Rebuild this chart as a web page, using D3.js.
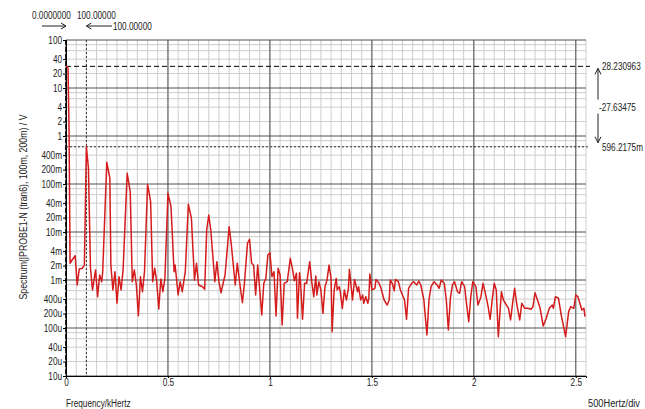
<!DOCTYPE html>
<html>
<head>
<meta charset="utf-8">
<script src="https://cdn.jsdelivr.net/npm/d3@7"></script>
<style>
  body { margin: 0; background: #fff; }
  text { font-family: "Liberation Sans", Arial, sans-serif; font-size: 10px; fill: #222; }
</style>
</head>
<body>
<script>
// Spectrum: frequency in Hz, magnitude in mV
const freqHz = [
  0, 5, 10, 15, 20, 30, 45, 55, 65, 80, 90,
  100, 110, 120, 130, 145, 155, 165, 175, 180, 200,
  215, 220, 230, 240, 250, 260, 270, 280, 300, 315,
  325, 335, 345, 355, 365, 375, 385, 400, 415, 425,
  435, 445, 455, 465, 475, 485, 500, 515, 530, 535,
  550, 560, 570, 585, 600, 615, 630, 640, 650, 670,
  680, 690, 700, 710, 730, 740, 750, 760, 780, 800,
  810, 830, 840, 850, 865, 875, 890, 900, 910, 920,
  930, 940, 960, 970, 980, 990, 1000, 1010, 1020, 1030,
  1040, 1050, 1060, 1070, 1085, 1100, 1110, 1120, 1130, 1135,
  1145, 1150, 1160, 1170, 1180, 1195, 1205, 1215, 1225, 1230,
  1240, 1250, 1260, 1270, 1280, 1290, 1300, 1305, 1315, 1325,
  1330, 1340, 1345, 1355, 1365, 1375, 1385, 1390, 1400, 1405,
  1415, 1430, 1435, 1445, 1455, 1460, 1470, 1480, 1485, 1490,
  1500, 1515, 1520, 1535, 1545, 1560, 1575, 1585, 1590, 1600,
  1610, 1615, 1630, 1640, 1660, 1670, 1680, 1695, 1705, 1720,
  1730, 1740, 1755, 1770, 1780, 1790, 1805, 1820, 1830, 1840,
  1855, 1865, 1875, 1885, 1895, 1905, 1920, 1930, 1940, 1955,
  1960, 1975, 1985, 1995, 2010, 2020, 2035, 2045, 2055, 2070,
  2080, 2090, 2100, 2110, 2120, 2135, 2145, 2160, 2170, 2180,
  2190, 2200, 2210, 2225, 2235, 2250, 2265, 2280, 2290, 2300,
  2315, 2325, 2340, 2355, 2370, 2385, 2390, 2400, 2415, 2430,
  2450, 2465, 2475, 2490, 2500, 2510, 2520, 2530, 2540, 2545
];
const magMv = [
  28230, 28000, 26000, 1300, 2.23, 2.61, 3.21, 0.787, 1.70, 1.75, 2.05,
  596.2, 215, 1.78, 0.62, 1.62, 0.449, 1.27, 0.922, 1.49, 283,
  133, 2.05, 0.62, 1.49, 0.327, 1.17, 0.62, 1.62, 167, 69.1,
  0.922, 1.62, 0.787, 0.180, 1.17, 0.570, 1.49, 98.6, 42.8, 0.922,
  1.75, 0.922, 0.249, 1.05, 0.570, 1.08, 64.0, 33.7, 1.49, 2.05,
  0.487, 0.922, 0.570, 1.49, 37.8, 19.3, 1.0, 2.23, 0.787, 0.725,
  0.640, 11.0, 22.6, 11.0, 0.922, 2.41, 0.922, 0.543, 1.27, 12.9,
  5.82, 0.787, 2.23, 1.0, 0.336, 0.853, 5.82, 7.05, 2.23, 2.05,
  0.487, 2.05, 0.187, 0.853, 1.08, 3.32, 3.71, 1.17, 1.49, 0.178,
  1.75, 1.27, 0.115, 0.853, 0.922, 2.83, 1.75, 0.966, 1.38, 0.159,
  1.42, 0.922, 0.152, 0.853, 0.853, 2.41, 0.922, 0.449, 1.21, 0.487,
  0.922, 0.62, 0.202, 0.725, 1.0, 2.05, 1.08, 0.0838, 0.62, 1.08,
  0.62, 0.725, 0.570, 0.257, 0.62, 0.383, 0.672, 1.67, 0.62, 0.383,
  1.03, 0.570, 0.725, 0.383, 0.487, 0.327, 0.449, 0.327, 0.416, 1.33,
  0.62, 0.672, 1.03, 0.853, 0.672, 0.383, 0.301, 0.383, 1.0, 0.853,
  0.598, 1.03, 0.922, 0.62, 0.383, 0.152, 0.672, 0.853, 0.922, 0.787,
  0.953, 0.787, 0.383, 0.0715, 0.383, 0.725, 0.922, 0.787, 0.672, 1.0,
  0.853, 0.383, 0.091, 0.416, 0.787, 0.922, 0.570, 0.528, 0.922, 0.725,
  0.449, 0.135, 0.449, 0.922, 0.725, 0.301, 0.449, 0.853, 0.570, 0.278,
  0.152, 0.383, 0.853, 0.62, 0.0659, 0.570, 0.383, 0.301, 0.257, 0.147,
  0.327, 0.672, 0.327, 0.147, 0.327, 0.257, 0.257, 0.245, 0.278, 0.543,
  0.353, 0.257, 0.110, 0.159, 0.257, 0.301, 0.257, 0.449, 0.416, 0.172,
  0.0659, 0.219, 0.278, 0.257, 0.487, 0.449, 0.327, 0.237, 0.257, 0.172
];

const xTicks = [0, 500, 1000, 1500, 2000, 2500];
const xTickLabels = ["0", "0.5", "1", "1.5", "2", "2.5"];
const yTicks = [100, 40, 20, 10, 4, 2, 1, 0.4, 0.2, 0.1, 0.04, 0.02, 0.01,
  0.004, 0.002, 0.001, 4e-4, 2e-4, 1e-4, 4e-5, 2e-5, 1e-5];
const yTickLabels = ["100", "40", "20", "10", "4", "2", "1", "400m", "200m", "100m", "40m", "20m", "10m",
  "4m", "2m", "1m", "400u", "200u", "100u", "40u", "20u", "10u"];

// probe cursors
const cursorA = { f: 0, v: 28.230963, fLabel: "0.0000000", vLabel: "28.230963" };
const cursorB = { f: 100, v: 0.5962175, fLabel: "100.00000", vLabel: "596.2175m" };
const deltaF = "100.00000";
const deltaV = "-27.63475";

const W = 645, H = 409;
const margin = { top: 40, right: 59, bottom: 33, left: 66 };
const width = W - margin.left - margin.right;
const height = H - margin.top - margin.bottom;

const svg = d3.select("body").append("svg")
  .attr("width", W)
  .attr("height", H);

const g = svg.append("g")
  .attr("transform", `translate(${margin.left},${margin.top})`);

const x = d3.scaleLinear().domain([0, 2550]).range([0, width]);
const y = d3.scaleLog().domain([1e-5, 100]).range([height, 0]);

// grid
const minorX = d3.range(0, 2551, 50);
const decades = d3.range(-5, 2).map(p => Math.pow(10, p));
const minorY = [];
decades.forEach(d => [2, 4, 6, 8].forEach(k => minorY.push(d * k)));

g.selectAll(".vminor").data(minorX).enter().append("line")
  .attr("x1", d => x(d)).attr("x2", d => x(d))
  .attr("y1", 0).attr("y2", height)
  .attr("stroke", "#cdcdcd").attr("stroke-width", 1);

g.selectAll(".hminor").data(minorY).enter().append("line")
  .attr("x1", 0).attr("x2", width)
  .attr("y1", d => y(d)).attr("y2", d => y(d))
  .attr("stroke", "#cdcdcd").attr("stroke-width", 1);

g.selectAll(".vmajor").data(xTicks).enter().append("line")
  .attr("x1", d => x(d)).attr("x2", d => x(d))
  .attr("y1", 0).attr("y2", height)
  .attr("stroke", "#505050").attr("stroke-width", 1);

g.selectAll(".hmajor").data(decades.concat([100])).enter().append("line")
  .attr("x1", 0).attr("x2", width)
  .attr("y1", d => y(d)).attr("y2", d => y(d))
  .attr("stroke", "#505050").attr("stroke-width", 1);

// axes
const xAxis = g.append("g")
  .attr("transform", `translate(0,${height})`)
  .call(d3.axisBottom(x).tickValues(xTicks).tickSize(2).tickPadding(1)
    .tickFormat((d, i) => xTickLabels[i]));

const yAxis = g.append("g")
  .call(d3.axisLeft(y).tickValues(yTicks).tickSize(3).tickPadding(1)
    .tickFormat((d, i) => yTickLabels[i]));

[xAxis, yAxis].forEach(a => {
  a.select(".domain").attr("stroke", "#000");
  a.selectAll(".tick line").attr("stroke", "#000");
  a.selectAll("text").style("font-size", "10px").attr("fill", "#222");
});

// cursor lines
const yA = y(cursorA.v), yB = y(cursorB.v);
g.append("line")
  .attr("x1", x(cursorA.f)).attr("x2", x(cursorA.f))
  .attr("y1", 0).attr("y2", height)
  .attr("stroke", "#000").attr("stroke-width", 1.6)
  .attr("stroke-dasharray", "5,2");
g.append("line")
  .attr("x1", x(cursorB.f)).attr("x2", x(cursorB.f))
  .attr("y1", 0).attr("y2", height)
  .attr("stroke", "#333").attr("stroke-width", 1)
  .attr("stroke-dasharray", "2,2");
g.append("line")
  .attr("x1", 0).attr("x2", width + 4)
  .attr("y1", yA).attr("y2", yA)
  .attr("stroke", "#000").attr("stroke-width", 1)
  .attr("stroke-dasharray", "5,3");
g.append("line")
  .attr("x1", 0).attr("x2", width + 4)
  .attr("y1", yB).attr("y2", yB)
  .attr("stroke", "#333").attr("stroke-width", 1)
  .attr("stroke-dasharray", "2,2");

// spectrum trace
const pts = freqHz.map((f, i) => [f, magMv[i] / 1000]);
g.append("path")
  .datum(pts)
  .attr("fill", "none")
  .attr("stroke", "#d41c1c")
  .attr("stroke-width", 1.5)
  .attr("stroke-linejoin", "round")
  .attr("d", d3.line().x(d => x(d[0])).y(d => y(d[1])));

// right-hand cursor readout
const ax = width + 12;
const mid = (yA + yB) / 2;
const arrow = g.append("g").attr("stroke", "#222").attr("fill", "none").attr("stroke-width", 1);
arrow.append("path").attr("d", `M${ax},${yA + 2}V${mid - 7}M${ax},${mid + 7}V${yB - 4}`);
arrow.append("path").attr("d", `M${ax - 3},${yA + 8}L${ax},${yA + 2}L${ax + 3},${yA + 8}`);
arrow.append("path").attr("d", `M${ax - 3},${yB - 10}L${ax},${yB - 4}L${ax + 3},${yB - 10}`);

// top cursor readout
const xa = margin.left + x(cursorA.f), xb = margin.left + x(cursorB.f);
svg.append("text").attr("x", 32).attr("y", 19).text(cursorA.fLabel);
svg.append("text").attr("x", 77).attr("y", 19).text(cursorB.fLabel);
const topArrows = svg.append("g").attr("stroke", "#222").attr("fill", "none").attr("stroke-width", 1);
topArrows.append("path").attr("d", `M42,26H${xa}M${xa - 5},23L${xa},26L${xa - 5},29`);
topArrows.append("path").attr("d", `M112,26H${xb}M${xb + 5},23L${xb},26L${xb + 5},29`);
svg.append("text").attr("x", 113).attr("y", 30).text(deltaF);

// bottom-left label
svg.append("text").attr("x", 66).attr("y", 407).text("Frequency/kHertz");

// the original uses a condensed face: squeeze every label horizontally
svg.selectAll("text").each(function () {
  const w = this.getComputedTextLength();
  d3.select(this).attr("textLength", w * 0.82).attr("lengthAdjust", "spacingAndGlyphs");
});

// right readout values, condensed with a scale so they stay inside the page
const readout = [
  { t: cursorA.vLabel, dx: 4, yy: yA + 4 },
  { t: deltaV, dx: 1, yy: mid + 4 },
  { t: cursorB.vLabel, dx: 4, yy: yB + 4 }
];
readout.forEach(r => {
  g.append("g")
    .attr("transform", `translate(${ax + r.dx},${r.yy}) scale(0.82,1)`)
    .append("text").text(r.t);
});

svg.append("text").attr("x", 588).attr("y", 407)
  .attr("textLength", 52).attr("lengthAdjust", "spacingAndGlyphs")
  .text("500Hertz/div");

// y-axis title
svg.append("text")
  .attr("transform", "translate(27,207) rotate(-90)")
  .attr("text-anchor", "middle")
  .attr("textLength", 185).attr("lengthAdjust", "spacingAndGlyphs")
  .style("font-size", "10.5px")
  .text("Spectrum(|PROBE1-N (tran6), 100m, 200m) / V");
</script>
</body>
</html>
